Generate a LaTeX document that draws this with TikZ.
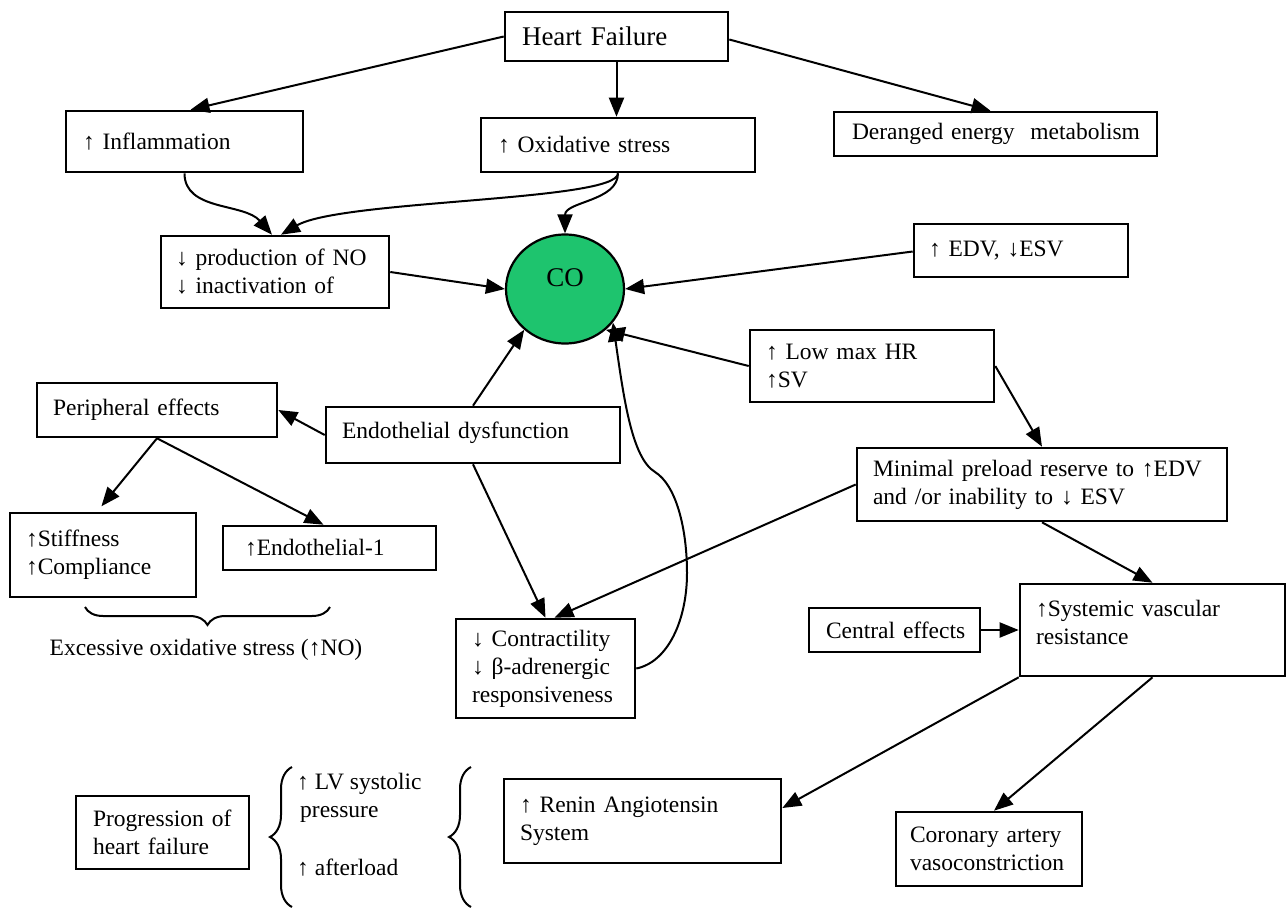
\documentclass[tikz,border=0pt]{standalone}
\usepackage{fontspec}
\setmainfont{Liberation Serif}
\usetikzlibrary{arrows.meta,shapes.geometric,decorations.pathreplacing}
\definecolor{cogreen}{RGB}{30,196,110}
\newcommand{\Ln}[1]{\mbox{#1}}
\begin{document}
\begin{tikzpicture}[x=1pt,y=-1pt,
  bx/.style={draw, line width=2.6pt, inner sep=0pt, align=left, font=\fontsize{23.5}{28}\selectfont},
  arr/.style={line width=2pt, -{Triangle[length=19pt,width=15pt]}},
  brc/.style={line width=2pt, decorate, decoration={brace, amplitude=#1}},
  lbl/.style={inner sep=0pt, align=left, font=\fontsize{23.5}{28}\selectfont}]
\fill[white] (0,0) rectangle (1288,908);
\useasboundingbox (0,0) rectangle (1288,908);

\node[bx, minimum width=223, minimum height=49, text width=189, font=\fontsize{27}{32}\selectfont] (hf) at (616.5,36.5) {\Ln{Heart Failure}};
\node[bx, minimum width=237, minimum height=61, text width=203] (infl) at (184.5,141.5) {\Ln{↑ Inflammation}};
\node[bx, minimum width=274, minimum height=54, text width=240] (ox) at (618,145) {\Ln{↑ Oxidative stress}};
\node[bx, minimum width=323, minimum height=44, text width=287] (der) at (995.5,134) {\Ln{Deranged energy~ metabolism}};
\node[bx, minimum width=228, minimum height=72, text width=198] (prod) at (275,272) {\Ln{↓ production of NO}\\\Ln{↓ inactivation of}};
\node[ellipse, draw, line width=2.2pt, fill=cogreen, minimum width=118, minimum height=109, inner sep=0pt, font=\fontsize{27}{32}\selectfont, text height=19pt, text depth=25pt] (co) at (565,289) {CO};
\node[bx, minimum width=214, minimum height=53, text width=184] (edv) at (1021,250.5) {\Ln{↑ EDV, ↓ESV}};
\node[bx, minimum width=244, minimum height=72, text width=212] (hr) at (872,366) {\Ln{↑ Low max HR}\\\Ln{↑SV}};
\node[bx, minimum width=240, minimum height=54, text width=208] (per) at (157,410) {\Ln{Peripheral effects}};
\node[bx, minimum width=294, minimum height=56, text width=262] (endo) at (473,435) {\Ln{Endothelial dysfunction}\\[-18pt]\mbox{}};
\node[bx, minimum width=370, minimum height=73, text width=338] (pre) at (1042,484.5) {\Ln{Minimal preload reserve to ↑EDV}\\\Ln{and /or inability to ↓ ESV}};
\node[bx, minimum width=186, minimum height=84, text width=154] (stf) at (103,555) {\Ln{↑Stiffness}\\\Ln{↑Compliance}};
\node[bx, minimum width=213, minimum height=44, text width=169] (et1) at (329.5,548) {\Ln{↑Endothelial-1}};
\node[bx, minimum width=179, minimum height=99, text width=147] (ctr) at (545.5,668.5) {\Ln{↓ Contractility}\\\Ln{↓ β-adrenergic}\\\Ln{responsiveness}};
\node[bx, minimum width=171, minimum height=44, text width=137] (cen) at (894.5,630) {\Ln{Central effects}};
\node[bx, minimum width=265, minimum height=92, text width=233] (svr) at (1152.5,630) {\Ln{↑Systemic vascular}\\\Ln{resistance}\\[-12pt]\mbox{}};
\node[bx, minimum width=173, minimum height=73, text width=139] (prog) at (162.5,832.5) {\Ln{Progression of}\\\Ln{heart failure}};
\node[bx, minimum width=277, minimum height=84, text width=245] (ras) at (642.5,821) {\Ln{↑ Renin Angiotensin}\\\Ln{System}};
\node[bx, minimum width=186, minimum height=74, text width=158] (cor) at (989,849) {\Ln{Coronary artery}\\\Ln{vasoconstriction}};

\node[lbl] (exc) at (206,650) {Excessive oxidative stress (↑NO)};
\node[lbl, anchor=west] (lvs) at (297,798) {↑ LV systolic\\\hspace*{3pt}pressure};
\node[lbl, anchor=west] (aft) at (297,868) {↑ afterload};

\draw[brc=18pt] (330,607) -- (85,607);
\draw[brc=22pt] (292,907) -- (292,767);
\draw[brc=22pt] (471,907) -- (471,767);

\draw[arr] (hf.west) -- ([xshift=6pt]infl.north);
\draw[arr] (hf.south) -- (hf.south |- ox.north);
\draw[arr] ([yshift=-3pt]hf.east) -- ([xshift=-5pt]der.north);
\draw[arr] (infl.south) .. controls +(0,38) and +(-28,-32) .. ([xshift=-3pt]prod.north);
\draw[arr] (ox.south) .. controls +(0,28) and +(60,-35) .. ([xshift=6pt]prod.north);
\draw[arr] (ox.south) .. controls +(0,28) and +(0,-32) .. (co.north);
\draw[arr] (prod.east) -- (co.west);
\draw[arr] ([yshift=-1pt]edv.west) -- (co.east);
\draw[arr] (hr.west) -- (co.-45);
\draw[arr] (hr.east) -- (pre.north);
\draw[arr] (pre.west) -- ([xshift=9pt]ctr.north);
\draw[arr] (endo.south) -- (ctr.north);
\draw[arr] (endo.north) -- (co.-135);
\draw[arr] (endo.west) -- (per.east);
\draw[arr, shorten >=7pt] (per.south) -- ([xshift=-6pt]stf.north);
\draw[arr] (per.south) -- ([xshift=-6pt]et1.north);
\draw[arr] (pre.south) -- (svr.north);
\draw[arr] (cen.east) -- (svr.west);
\draw[arr] (svr.south west) -- ([yshift=13pt]ras.east);
\draw[arr] (svr.south) -- ([xshift=5pt]cor.north);
\draw[arr] (ctr.east) .. controls (668,662) and (687,620) .. (687,573)
  .. controls (687,528) and (676,485) .. (655,472)
  .. controls (632,458) and (624,400) .. (co.-35);
\end{tikzpicture}
\end{document}
